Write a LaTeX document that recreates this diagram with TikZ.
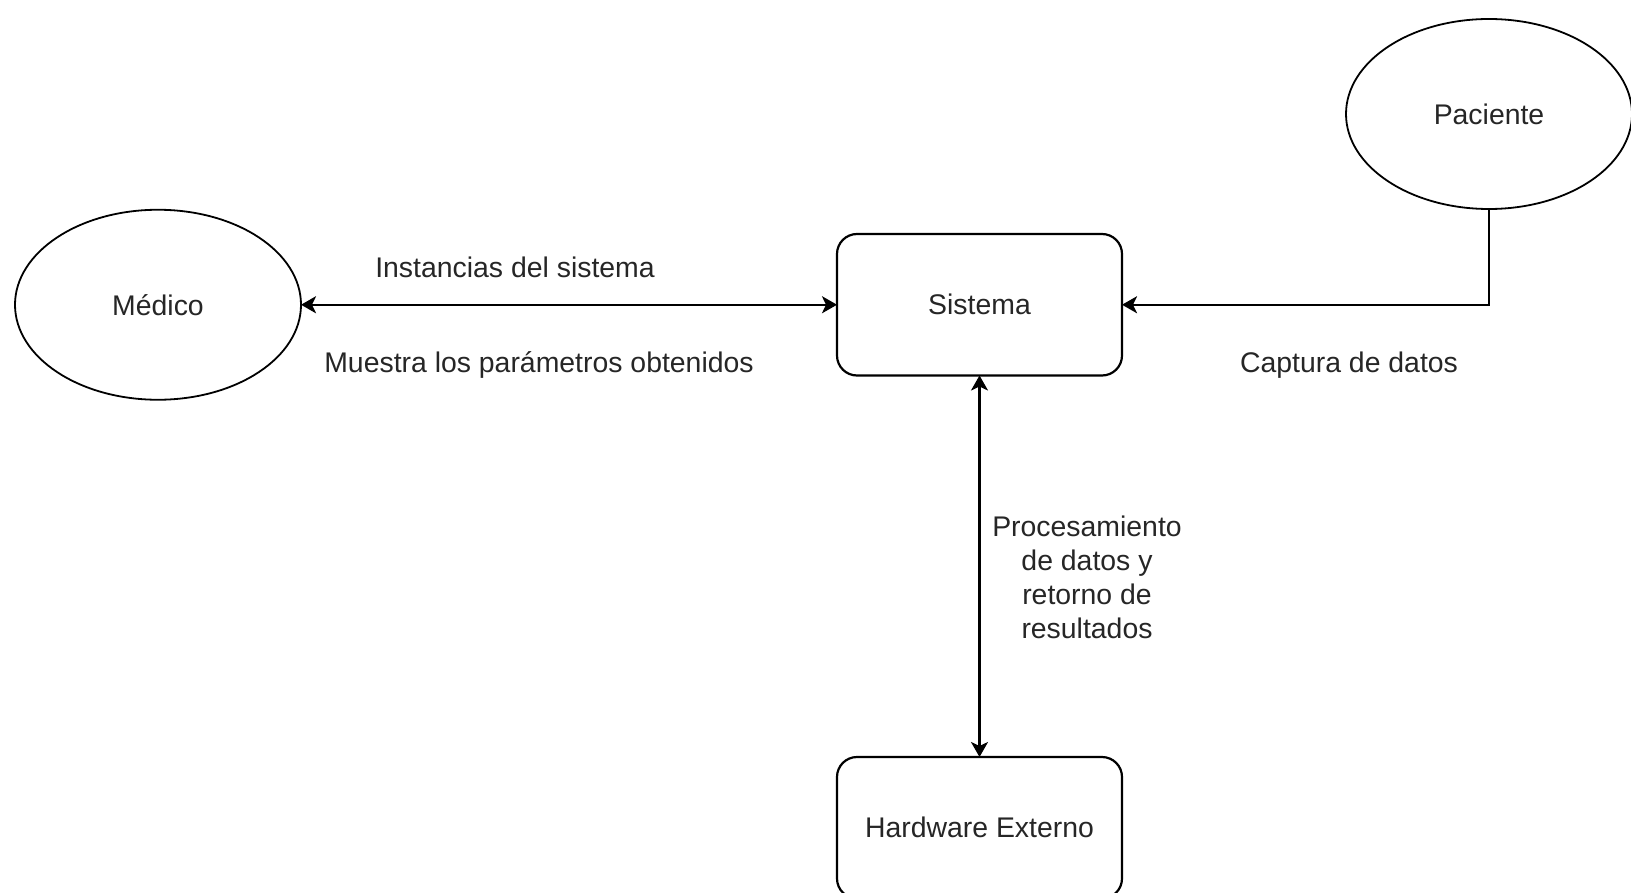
\documentclass[tikz,border=0pt]{standalone}
\usepackage{fontspec}
\setmainfont{Liberation Sans}
\usetikzlibrary{shapes.geometric,arrows.meta}
\begin{document}
\begin{tikzpicture}[x=0.5pt,y=-0.5pt,
  every node/.style={font=\fontsize{14.2pt}{17pt}\selectfont, text=black!85},
  tip/.tip={Stealth[length=7.5pt,width=8.5pt,inset=2pt]},
  actor/.style={ellipse, draw=black, line width=0.9pt, inner sep=0pt, outer sep=0pt,
    minimum width=143pt, minimum height=95pt},
  block/.style={rectangle, rounded corners=10pt, draw=black, line width=1.1pt,
    inner sep=0pt, outer sep=0pt, minimum width=142.5pt, minimum height=70.75pt},
  flow/.style={line width=1.2pt, draw=black, arrows={-tip}},
  both/.style={line width=1.2pt, draw=black, arrows={tip-tip}},
  lbl/.style={inner sep=0pt, align=center}]
\useasboundingbox (0,0) rectangle (1631,893);

% participants and system blocks
\node[actor] (med) at (158,304.75) {Médico};
\node[actor] (pac) at (1489,114) {Paciente};
\node[block] (sis) at (979.5,304.75) {Sistema};
\node[block] (hw) at (979.5,827.75) {Hardware Externo};

% data flows
\draw[both] (med) -- (sis);
\draw[flow] (pac.south) |- (sis.east);
\draw[both] (sis) -- (hw);

% flow labels
\node[lbl] (l1) at (515,267) {Instancias del sistema};
\node[lbl] (l2) at (539,365) {Muestra los parámetros obtenidos};
\node[lbl] (l3) at (1349,365) {Captura de datos};
\node[lbl] (l4) at (1087,577) {Procesamiento\\de datos y\\retorno de\\resultados};
\end{tikzpicture}
\end{document}
